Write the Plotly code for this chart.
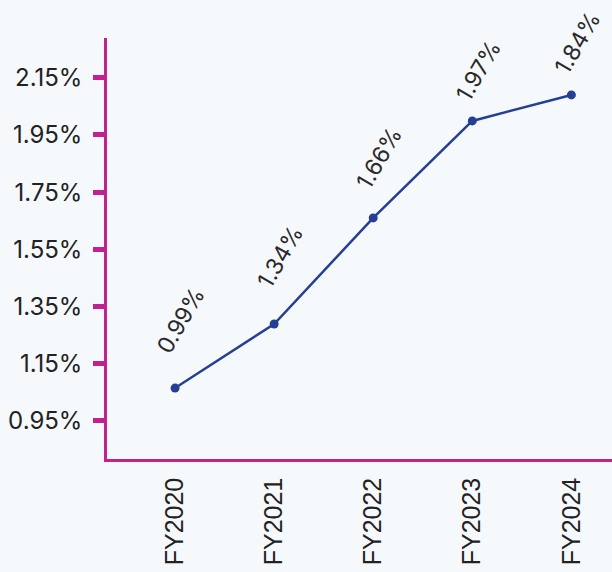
import plotly.graph_objects as go

categories = ["FY2020", "FY2021", "FY2022", "FY2023", "FY2024"]
plotted_values = [1.065, 1.289, 1.660, 1.999, 2.090]
point_labels = ["0.99%", "1.34%", "1.66%", "1.97%", "1.84%"]
y_ticks = [0.95, 1.15, 1.35, 1.55, 1.75, 1.95, 2.15]
y_tick_labels = ["0.95%", "1.15%", "1.35%", "1.55%", "1.75%", "1.95%", "2.15%"]

# label offsets (pixels above each point), styling only
label_yshift = [68, 67, 60, 50, 52]

magenta = "#C2228F"
navy = "#253F94"
bg = "#F6F9FC"

fig = go.Figure()
fig.add_trace(go.Scatter(
    x=categories, y=plotted_values, mode="lines+markers",
    line=dict(color=navy, width=2.5),
    marker=dict(color=navy, size=9),
    hoverinfo="skip", showlegend=False,
))

for c, v, t, ys in zip(categories, plotted_values, point_labels, label_yshift):
    fig.add_annotation(
        x=c, y=v, text=t, showarrow=False, textangle=-60,
        xanchor="center", yanchor="middle", xshift=6, yshift=ys,
        font=dict(family="Inter, Lato, sans-serif", size=23, color="#2a2a2a"),
    )

fig.update_layout(
    width=612, height=572,
    margin=dict(l=107, r=0, t=38, b=113),
    paper_bgcolor=bg, plot_bgcolor=bg,
    xaxis=dict(
        type="category", range=[-0.687, 4.41],
        showline=True, linecolor=magenta, linewidth=2.5,
        showgrid=False, zeroline=False,
        ticks="", tickangle=-90, ticklabelstandoff=6,
        tickfont=dict(family="Liberation Sans, Arial, sans-serif", size=25, color="#222222"),
    ),
    yaxis=dict(
        range=[0.817, 2.289],
        tickvals=y_ticks, ticktext=y_tick_labels,
        showline=True, linecolor=magenta, linewidth=2.5,
        showgrid=False, zeroline=False,
        ticks="outside", ticklen=11, tickwidth=5, tickcolor=magenta,
        ticklabelstandoff=6,
        tickfont=dict(family="Inter, Lato, sans-serif", size=24, color="#222222"),
    ),
)

fig.write_html("out.html")
